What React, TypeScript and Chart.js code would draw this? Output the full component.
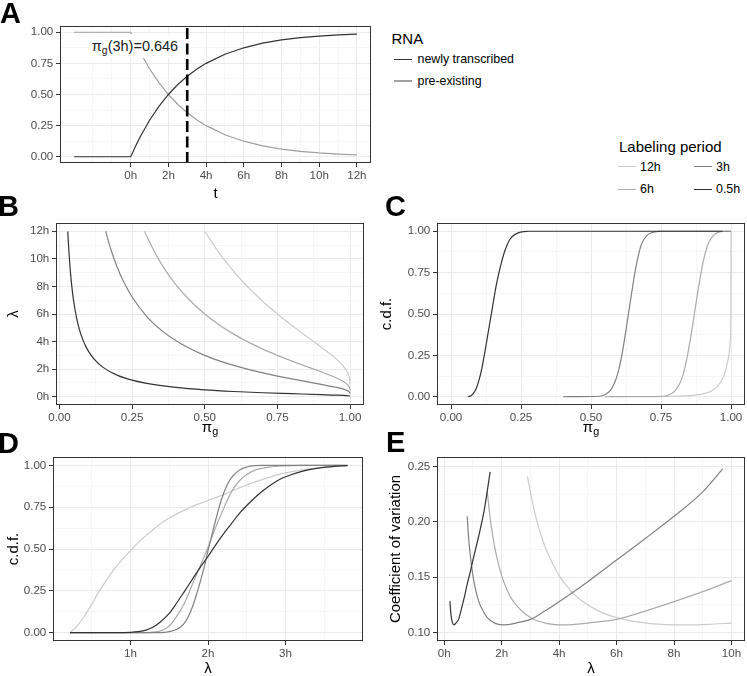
import React, { useEffect, useRef } from 'react';
import { Chart, registerables } from 'chart.js';

Chart.register(...registerables);

// ---------------- DATA ----------------
// Panel A: fraction of RNA over time t (hours)
const A_T = [-3, 0, 0.25, 0.5, 1, 1.5, 2, 2.5, 3, 3.5, 4, 5, 6, 7, 8, 9, 10, 11, 12];
const A_NEW = [0, 0, 0.083, 0.159, 0.293, 0.405, 0.5, 0.58, 0.646, 0.703, 0.75, 0.823, 0.875, 0.912, 0.938, 0.956, 0.969, 0.978, 0.984];
const A_PRE = [1, 1, 0.917, 0.841, 0.707, 0.595, 0.5, 0.42, 0.354, 0.297, 0.25, 0.177, 0.125, 0.088, 0.062, 0.044, 0.031, 0.022, 0.016];
const A_VLINE_T = 3;
const A_X_MAJOR = [0, 2, 4, 6, 8, 10, 12];
const A_X_MINOR = [-2, -1, 1, 3, 5, 7, 9, 11];
const A_X_LABELS = ['0h', '2h', '4h', '6h', '8h', '10h', '12h'];

const P_MAJOR = [0, 0.25, 0.5, 0.75, 1];
const P_MINOR = [0.125, 0.375, 0.625, 0.875];
const P_LABELS = ['0.00', '0.25', '0.50', '0.75', '1.00'];

// Panel B: lambda (h) vs pi_g for each labeling period
const B_P05 = [0.0285, 0.03, 0.035, 0.04, 0.045, 0.05, 0.06, 0.07, 0.08, 0.09, 0.1, 0.12, 0.15, 0.2, 0.25, 0.3, 0.4, 0.5, 0.6, 0.7, 0.8, 0.9, 0.95, 0.99, 0.999, 0.9999];
const B_L05 = [11.99, 11.38, 9.73, 8.49, 7.53, 6.76, 5.6, 4.78, 4.16, 3.67, 3.29, 2.71, 2.13, 1.55, 1.2, 0.97, 0.68, 0.5, 0.38, 0.29, 0.22, 0.15, 0.12, 0.075, 0.05, 0.038];
const B_P3 = [0.159, 0.17, 0.18, 0.2, 0.22, 0.25, 0.3, 0.35, 0.4, 0.45, 0.5, 0.55, 0.6, 0.65, 0.7, 0.75, 0.8, 0.85, 0.9, 0.95, 0.98, 0.99, 0.999, 0.9999];
const B_L3 = [12.0, 11.16, 10.48, 9.32, 8.37, 7.23, 5.83, 4.83, 4.07, 3.48, 3.0, 2.6, 2.27, 1.98, 1.73, 1.5, 1.29, 1.1, 0.9, 0.69, 0.53, 0.45, 0.3, 0.23];
const B_P6 = [0.293, 0.3, 0.35, 0.4, 0.45, 0.5, 0.55, 0.6, 0.65, 0.7, 0.75, 0.8, 0.85, 0.9, 0.95, 0.98, 0.99, 0.995, 0.999, 0.9999];
const B_L6 = [12.0, 11.66, 9.65, 8.14, 6.96, 6.0, 5.21, 4.54, 3.96, 3.45, 3.0, 2.58, 2.19, 1.81, 1.39, 1.06, 0.9, 0.78, 0.6, 0.45];
const B_P12 = [0.5, 0.55, 0.6, 0.65, 0.7, 0.75, 0.8, 0.85, 0.9, 0.93, 0.95, 0.97, 0.98, 0.99, 0.995, 0.999, 0.9999];
const B_L12 = [12.0, 10.42, 9.08, 7.92, 6.91, 6.0, 5.17, 4.38, 3.61, 3.13, 2.78, 2.37, 2.13, 1.81, 1.57, 1.2, 0.9];
const H12_MAJOR = [0, 2, 4, 6, 8, 10, 12];
const H12_MINOR = [1, 3, 5, 7, 9, 11];
const H12_LABELS = ['0h', '2h', '4h', '6h', '8h', '10h', '12h'];

// Panel C: c.d.f. of pi_g
const C_P05 = [0.06, 0.07, 0.08, 0.09, 0.1, 0.11, 0.12, 0.13, 0.14, 0.15, 0.16, 0.17, 0.18, 0.19, 0.2, 0.21, 0.22, 0.24, 0.26, 0.28, 0.97];
const C_F05 = [0, 0.005, 0.02, 0.05, 0.1, 0.17, 0.26, 0.36, 0.46, 0.56, 0.66, 0.74, 0.81, 0.87, 0.915, 0.95, 0.97, 0.99, 0.998, 1, 1];
const C_P3 = [0.4, 0.53, 0.55, 0.57, 0.58, 0.59, 0.6, 0.61, 0.62, 0.63, 0.64, 0.65, 0.66, 0.67, 0.68, 0.7, 0.72, 0.74, 0.76, 1.0];
const C_F3 = [0, 0.003, 0.012, 0.04, 0.07, 0.11, 0.17, 0.25, 0.35, 0.46, 0.57, 0.68, 0.78, 0.86, 0.92, 0.975, 0.993, 0.999, 1, 1];
const C_P6 = [0.55, 0.76, 0.78, 0.8, 0.82, 0.83, 0.84, 0.85, 0.86, 0.87, 0.88, 0.89, 0.9, 0.91, 0.92, 0.94, 0.96, 0.98, 1.0];
const C_F6 = [0, 0.003, 0.012, 0.035, 0.09, 0.14, 0.21, 0.3, 0.4, 0.51, 0.62, 0.72, 0.81, 0.88, 0.93, 0.98, 0.997, 1, 1];
const C_P12 = [0.7, 0.8, 0.85, 0.9, 0.93, 0.95, 0.97, 0.98, 0.985, 0.99, 0.995, 0.998, 0.999, 0.9999, 1.0];
const C_F12 = [0, 0.003, 0.007, 0.017, 0.035, 0.06, 0.11, 0.155, 0.19, 0.23, 0.29, 0.36, 0.42, 0.55, 1.0];

// Panel D: c.d.f. of lambda (h)
const D_L12 = [0.22, 0.3, 0.4, 0.5, 0.6, 0.7, 0.8, 0.9, 1.0, 1.1, 1.2, 1.3, 1.4, 1.5, 1.6, 1.8, 2.0, 2.2, 2.4, 2.6, 2.8, 3.0, 3.2, 3.4, 3.6, 3.8];
const D_F12 = [0, 0.035, 0.095, 0.17, 0.25, 0.32, 0.385, 0.44, 0.49, 0.54, 0.58, 0.62, 0.655, 0.685, 0.71, 0.755, 0.79, 0.825, 0.865, 0.9, 0.93, 0.955, 0.972, 0.985, 0.993, 0.998];
const D_L05 = [0.22, 0.8, 1.0, 1.1, 1.2, 1.3, 1.4, 1.5, 1.6, 1.7, 1.8, 1.9, 2.0, 2.1, 2.2, 2.3, 2.4, 2.5, 2.6, 2.7, 2.8, 2.9, 3.0, 3.2, 3.4, 3.6, 3.8];
const D_F05 = [0, 0, 0.002, 0.006, 0.015, 0.035, 0.07, 0.115, 0.18, 0.25, 0.32, 0.39, 0.455, 0.525, 0.59, 0.65, 0.71, 0.76, 0.805, 0.845, 0.88, 0.91, 0.932, 0.963, 0.982, 0.993, 0.998];
const D_L6 = [0.22, 1.2, 1.3, 1.4, 1.5, 1.6, 1.7, 1.8, 1.9, 2.0, 2.1, 2.2, 2.3, 2.4, 2.5, 2.6, 2.8, 3.0, 3.2, 3.8];
const D_F6 = [0, 0, 0.003, 0.012, 0.04, 0.1, 0.18, 0.29, 0.4, 0.51, 0.63, 0.74, 0.84, 0.905, 0.945, 0.97, 0.99, 0.997, 1, 1];
const D_L3 = [0.22, 1.4, 1.5, 1.6, 1.65, 1.7, 1.75, 1.8, 1.85, 1.9, 1.95, 2.0, 2.05, 2.1, 2.15, 2.2, 2.25, 2.3, 2.4, 2.5, 2.6, 2.7, 3.8];
const D_F3 = [0, 0, 0.006, 0.02, 0.035, 0.06, 0.1, 0.155, 0.225, 0.305, 0.39, 0.49, 0.585, 0.675, 0.76, 0.83, 0.885, 0.925, 0.97, 0.99, 0.998, 1, 1];
const D_X_MAJOR = [1, 2, 3];
const D_X_MINOR = [0.5, 1.5, 2.5, 3.5];
const D_X_LABELS = ['1h', '2h', '3h'];

// Panel E: coefficient of variation vs lambda (h)
const E_L05 = [0.2, 0.22, 0.25, 0.3, 0.35, 0.4, 0.5, 0.6, 0.7, 0.8, 0.9, 1.0, 1.2, 1.4, 1.6];
const E_CV05 = [0.1285, 0.1208, 0.1136, 0.1082, 0.107, 0.1085, 0.112, 0.1215, 0.1318, 0.1435, 0.154, 0.1655, 0.187, 0.2115, 0.245];
const E_L3 = [0.8, 0.85, 0.9, 1.0, 1.1, 1.2, 1.5, 1.8, 2.1, 2.5, 3, 3.5, 4, 5, 6, 7, 8, 9, 9.7];
const E_CV3 = [0.205, 0.1857, 0.172, 0.1515, 0.1379, 0.1285, 0.1136, 0.1082, 0.107, 0.1087, 0.112, 0.1195, 0.128, 0.146, 0.1655, 0.185, 0.205, 0.227, 0.248];
const E_L6 = [1.5, 1.6, 1.7, 1.8, 2.0, 2.2, 2.4, 3.0, 3.6, 4.2, 5, 6, 7, 8, 9, 10];
const E_CV6 = [0.227, 0.2033, 0.1857, 0.1718, 0.1515, 0.1379, 0.1285, 0.1136, 0.1082, 0.107, 0.1087, 0.112, 0.1195, 0.128, 0.137, 0.147];
const E_L12 = [2.9, 3.0, 3.2, 3.4, 3.6, 4.0, 4.4, 4.8, 5.4, 6.0, 7.2, 8.4, 9.2, 10];
const E_CV12 = [0.241, 0.227, 0.2033, 0.1857, 0.1718, 0.1515, 0.1379, 0.1285, 0.1192, 0.1136, 0.1082, 0.107, 0.1075, 0.1087];
const E_X_MAJOR = [0, 2, 4, 6, 8, 10];
const E_X_MINOR = [1, 3, 5, 7, 9];
const E_X_LABELS = ['0h', '2h', '4h', '6h', '8h', '10h'];
const E_Y_MAJOR = [0.1, 0.15, 0.2, 0.25];
const E_Y_MINOR = [0.125, 0.175, 0.225];
const E_Y_LABELS = ['0.10', '0.15', '0.20', '0.25'];

const RNA_LEVELS = ['newly transcribed', 'pre-existing'];
const PERIOD_LEVELS = ['12h', '6h', '3h', '0.5h'];

// ---------------- STYLE ----------------
const FONT = "'Liberation Sans', Arial, Helvetica, sans-serif";
const C_NEW = '#333333';
const C_PRE = '#A0A0A0';
const C_12 = '#CCCCCC';
const C_6 = '#ABABAB';
const C_3 = '#818181';
const C_05 = '#333333';
const PERIOD_COLORS = [C_12, C_6, C_3, C_05];
const RNA_COLORS = [C_NEW, C_PRE];

const Y_W = 45;
const X_H = 30;
const PAD_T = 16;
const PAD_R = 16;

type Axis = { min: number; max: number; majors: number[]; minors: number[]; labels: string[] };
type Series = { xs: number[]; ys: number[]; color: string; width?: number; dash?: number[]; smooth?: boolean };
type Panel = { l: number; t: number; r: number; b: number; x: Axis; y: Axis; series: Series[] };

const PANELS: Panel[] = [
  {
    l: 60, t: 26, r: 371, b: 163,
    x: { min: -3.75, max: 12.75, majors: A_X_MAJOR, minors: A_X_MINOR, labels: A_X_LABELS },
    y: { min: -0.05, max: 1.05, majors: P_MAJOR, minors: P_MINOR, labels: P_LABELS },
    series: [
      { xs: [A_VLINE_T, A_VLINE_T], ys: [-0.05, 1.05], color: '#000000', width: 2.6, dash: [11, 4.5] },
      { xs: A_T, ys: A_NEW, color: C_NEW },
      { xs: A_T, ys: A_PRE, color: C_PRE },
    ],
  },
  {
    l: 56, t: 223, r: 364, b: 405,
    x: { min: -0.012, max: 1.048, majors: P_MAJOR, minors: P_MINOR, labels: P_LABELS },
    y: { min: -0.6, max: 12.6, majors: H12_MAJOR, minors: H12_MINOR, labels: H12_LABELS },
    series: [
      { xs: B_P05, ys: B_L05, color: C_05, smooth: true },
      { xs: B_P3, ys: B_L3, color: C_3, smooth: true },
      { xs: B_P6, ys: B_L6, color: C_6, smooth: true },
      { xs: B_P12, ys: B_L12, color: C_12, smooth: true },
    ],
  },
  {
    l: 437, t: 223, r: 745, b: 405,
    x: { min: -0.05, max: 1.05, majors: P_MAJOR, minors: P_MINOR, labels: P_LABELS },
    y: { min: -0.05, max: 1.05, majors: P_MAJOR, minors: P_MINOR, labels: P_LABELS },
    series: [
      { xs: C_P05, ys: C_F05, color: C_05, smooth: true },
      { xs: C_P3, ys: C_F3, color: C_3, smooth: true },
      { xs: C_P6, ys: C_F6, color: C_6, smooth: true },
      { xs: C_P12, ys: C_F12, color: C_12, smooth: true },
    ],
  },
  {
    l: 53, t: 457, r: 363, b: 641,
    x: { min: 0, max: 4, majors: D_X_MAJOR, minors: D_X_MINOR, labels: D_X_LABELS },
    y: { min: -0.05, max: 1.05, majors: P_MAJOR, minors: P_MINOR, labels: P_LABELS },
    series: [
      { xs: D_L05, ys: D_F05, color: C_05, smooth: true },
      { xs: D_L3, ys: D_F3, color: C_3, smooth: true },
      { xs: D_L6, ys: D_F6, color: C_6, smooth: true },
      { xs: D_L12, ys: D_F12, color: C_12, smooth: true },
    ],
  },
  {
    l: 437, t: 457, r: 745, b: 641,
    x: { min: -0.25, max: 10.47, majors: E_X_MAJOR, minors: E_X_MINOR, labels: E_X_LABELS },
    y: { min: 0.0925, max: 0.2585, majors: E_Y_MAJOR, minors: E_Y_MINOR, labels: E_Y_LABELS },
    series: [
      { xs: E_L05, ys: E_CV05, color: C_05, smooth: true },
      { xs: E_L3, ys: E_CV3, color: C_3, smooth: true },
      { xs: E_L6, ys: E_CV6, color: C_6, smooth: true },
      { xs: E_L12, ys: E_CV12, color: C_12, smooth: true },
    ],
  },
];

function scaleOpts(ax: Axis, isX: boolean) {
  const majorSet = new Set(ax.majors);
  const labelMap = new Map(ax.majors.map((v, i) => [v, ax.labels[i]]));
  const all = [...ax.majors, ...ax.minors].sort((a, b) => a - b);
  const isMaj = (c: any) => !!(c && c.tick && majorSet.has(c.tick.value));
  return {
    type: 'linear',
    position: isX ? 'bottom' : 'left',
    min: ax.min,
    max: ax.max,
    afterBuildTicks: (s: any) => {
      s.ticks = all.map((v) => ({ value: v }));
    },
    afterFit: (s: any) => {
      if (isX) s.height = X_H;
      else s.width = Y_W;
    },
    ticks: {
      autoSkip: false,
      maxRotation: 0,
      minRotation: 0,
      padding: isX ? 1.5 : 2.7,
      color: '#4D4D4D',
      font: { family: FONT, size: 11.6 },
      callback: (v: number) => labelMap.get(v) ?? '',
    },
    grid: {
      color: (c: any) => (isMaj(c) ? '#EBEBEB' : '#F4F4F4'),
      lineWidth: (c: any) => (isMaj(c) ? 1 : 0.8),
      drawTicks: true,
      tickLength: 4,
      tickWidth: 1,
      tickColor: (c: any) => (isMaj(c) ? '#333333' : 'rgba(0,0,0,0)'),
    },
    border: { display: false },
  };
}

const boxPlugin = {
  id: 'panelBox',
  afterDatasetsDraw(chart: any) {
    const { ctx, chartArea: a } = chart;
    ctx.save();
    ctx.strokeStyle = '#333333';
    ctx.lineWidth = 1;
    ctx.strokeRect(a.left + 0.5, a.top + 0.5, a.right - a.left - 1, a.bottom - a.top - 1);
    ctx.restore();
  },
};

function buildConfig(p: Panel): any {
  return {
    type: 'line',
    data: {
      datasets: p.series.map((s) => ({
        data: s.xs.map((x, i) => ({ x, y: s.ys[i] })),
        borderColor: s.color,
        borderWidth: s.width ?? 1.2,
        borderDash: s.dash ?? [],
        pointRadius: 0,
        pointHoverRadius: 0,
        fill: false,
        tension: 0,
        cubicInterpolationMode: s.smooth ? 'monotone' : 'default',
      })),
    },
    options: {
      animation: false,
      responsive: false,
      devicePixelRatio: 1,
      events: [],
      layout: { padding: { top: PAD_T, right: PAD_R, left: 0, bottom: 0 } },
      plugins: { legend: { display: false }, tooltip: { enabled: false }, title: { display: false } },
      scales: { x: scaleOpts(p.x, true), y: scaleOpts(p.y, false) },
    },
    plugins: [boxPlugin],
  };
}

function PanelChart({ panel }: { panel: Panel }) {
  const ref = useRef<HTMLCanvasElement>(null);
  const w = Y_W + (panel.r - panel.l) + PAD_R;
  const h = PAD_T + (panel.b - panel.t) + X_H;
  useEffect(() => {
    const chart = new Chart(ref.current as HTMLCanvasElement, buildConfig(panel));
    return () => chart.destroy();
  }, []);
  return (
    <canvas
      ref={ref}
      width={w}
      height={h}
      style={{ position: 'absolute', left: panel.l - Y_W, top: panel.t - PAD_T, width: w, height: h }}
    />
  );
}

function Txt(props: {
  x: number; y: number; size: number; children: any; bold?: boolean;
  anchor?: 'start' | 'middle'; rotate?: boolean; color?: string;
}) {
  const { x, y, size, children, bold, anchor = 'middle', rotate, color = '#000' } = props;
  const tx = anchor === 'start' ? '0%' : '-50%';
  return (
    <div
      style={{
        position: 'absolute', left: x, top: y, fontSize: size, lineHeight: `${size}px`,
        fontWeight: bold ? 'bold' : 'normal', color, whiteSpace: 'nowrap', fontFamily: FONT,
        transform: `translate(${tx}, -50%)` + (rotate ? ' rotate(-90deg)' : ''),
      }}
    >
      {children}
    </div>
  );
}

const Sub = ({ children }: { children: any }) => (
  <span style={{ fontSize: '0.72em', position: 'relative', top: '0.32em' }}>{children}</span>
);

function KeyLine({ x, y, w, color }: { x: number; y: number; w: number; color: string }) {
  return <div style={{ position: 'absolute', left: x, top: y - 0.6, width: w, height: 1.2, background: color }} />;
}

export default function App() {
  return (
    <div style={{ position: 'absolute', left: 0, top: 0, width: 747, height: 676, background: '#fff', overflow: 'hidden' }}>
      {PANELS.map((p, i) => (
        <PanelChart key={i} panel={p} />
      ))}

      {/* annotation label in A */}
      <div style={{ position: 'absolute', left: 89, top: 34, width: 92, height: 24, background: '#fff' }} />
      <Txt x={135} y={46.5} size={14.5} color="#222">
        π<Sub>g</Sub>(3h)=0.646
      </Txt>

      {/* panel letters */}
      <Txt x={0} y={12.5} size={29} bold anchor="start">A</Txt>
      <Txt x={-2} y={206} size={29} bold anchor="start">B</Txt>
      <Txt x={385} y={206.3} size={29} bold anchor="start">C</Txt>
      <Txt x={-2} y={443} size={29} bold anchor="start">D</Txt>
      <Txt x={386} y={442} size={29} bold anchor="start">E</Txt>

      {/* axis titles */}
      <Txt x={215.5} y={192} size={15}>t</Txt>
      <Txt x={12} y={314} size={15} rotate>λ</Txt>
      <Txt x={210} y={427} size={15}>π<Sub>g</Sub></Txt>
      <Txt x={385} y={314} size={15} rotate>c.d.f.</Txt>
      <Txt x={591} y={427} size={15}>π<Sub>g</Sub></Txt>
      <Txt x={12} y={549} size={15} rotate>c.d.f.</Txt>
      <Txt x={208} y={667} size={15}>λ</Txt>
      <Txt x={393.5} y={549} size={15} rotate>Coefficient of variation</Txt>
      <Txt x={591} y={667} size={15}>λ</Txt>

      {/* RNA legend */}
      <Txt x={391.5} y={37.5} size={15} anchor="start">RNA</Txt>
      {RNA_LEVELS.map((lab, i) => (
        <React.Fragment key={lab}>
          <KeyLine x={394} y={59.3 + i * 21.7} w={18} color={RNA_COLORS[i]} />
          <Txt x={417.5} y={59.3 + i * 21.7} size={12.4} anchor="start">{lab}</Txt>
        </React.Fragment>
      ))}

      {/* Labeling period legend */}
      <Txt x={619} y={145.5} size={15} anchor="start">Labeling period</Txt>
      {PERIOD_LEVELS.map((lab, i) => {
        const col = Math.floor(i / 2);
        const row = i % 2;
        const kx = col === 0 ? 618.3 : 694.3;
        const tx = col === 0 ? 640 : 716;
        const y = row === 0 ? 166.7 : 189.3;
        return (
          <React.Fragment key={lab}>
            <KeyLine x={kx} y={y} w={17.4} color={PERIOD_COLORS[i]} />
            <Txt x={tx} y={y} size={12.4} anchor="start">{lab}</Txt>
          </React.Fragment>
        );
      })}
    </div>
  );
}
